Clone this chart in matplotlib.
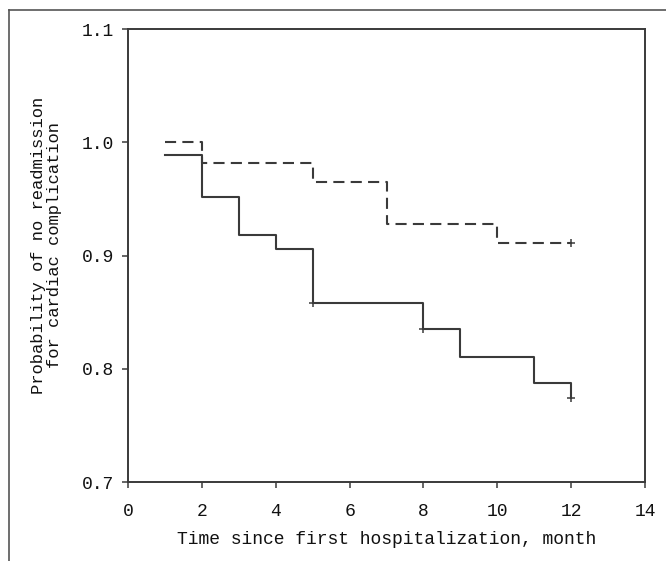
import numpy as np
import matplotlib
matplotlib.use("Agg")
import matplotlib.pyplot as plt
from matplotlib.lines import Line2D

# Kaplan-Meier style curves
t_solid = [1, 2, 3, 4, 5, 8, 9, 11, 12]
s_solid = [0.989, 0.952, 0.918, 0.906, 0.858, 0.835, 0.810, 0.787, 0.774]
t_dash = [1, 2, 5, 7, 10, 12]
s_dash = [1.000, 0.982, 0.965, 0.928, 0.911, 0.911]

# censored marks (+)
cens_solid_t = [5, 8, 12]
cens_solid_s = [0.858, 0.835, 0.774]
cens_dash_t = [12]
cens_dash_s = [0.911]

xticks = [0, 2, 4, 6, 8, 10, 12, 14]
yticks = [0.7, 0.8, 0.9, 1.0, 1.1]
ytick_labels = ["0.7", "0.8", "0.9", "1.0", "1.1"]

def main():
    plt.rcParams['font.family'] = ['Liberation Mono', 'DejaVu Sans Mono']
    plt.rcParams['lines.scale_dashes'] = False
    col = "#3a3a3a"
    txt = "#111111"

    fig = plt.figure(figsize=(6.66, 5.61), dpi=100)
    ax = fig.add_axes([0.1922, 0.1408, 0.7763, 0.8075])

    ax.step(t_solid, s_solid, where='post', color=col, lw=1.5)
    ax.step(t_dash, s_dash, where='post', color=col, lw=1.5,
            linestyle=(0, (8, 4.5)))
    ax.plot(cens_solid_t, cens_solid_s, '+', color=col, ms=6, mew=1.1)
    ax.plot(cens_dash_t, cens_dash_s, '+', color=col, ms=6, mew=1.1)

    ax.set_xlim(0, 14)
    ax.set_ylim(0.7, 1.1)
    ax.set_xticks(xticks)
    ax.set_yticks(yticks)
    ax.set_yticklabels(ytick_labels)
    ax.tick_params(axis='both', direction='out', length=4, width=1.1,
                   color=col, labelsize=13, labelcolor=txt)
    ax.tick_params(axis='x', pad=11)
    ax.tick_params(axis='y', pad=6)
    for sp in ax.spines.values():
        sp.set_color(col)
        sp.set_linewidth(1.4)

    ax.set_xlabel('Time since first hospitalization, month', fontsize=13,
                  color=txt, labelpad=8)
    ax.set_ylabel('Probability of no readmission\nfor cardiac complication',
                  fontsize=12.3, color=txt, linespacing=1.05)
    ax.yaxis.set_label_coords(-0.128, 0.523)

    # outer frame (top and left edges)
    fig.add_artist(Line2D([0.0128, 1.0], [0.9813, 0.9813], color='#555555',
                          lw=1.2, transform=fig.transFigure))
    fig.add_artist(Line2D([0.0128, 0.0128], [0.0, 0.9813], color='#555555',
                          lw=1.2, transform=fig.transFigure))

    fig.savefig('out.png', dpi=100)

if __name__ == "__main__":
    main()
